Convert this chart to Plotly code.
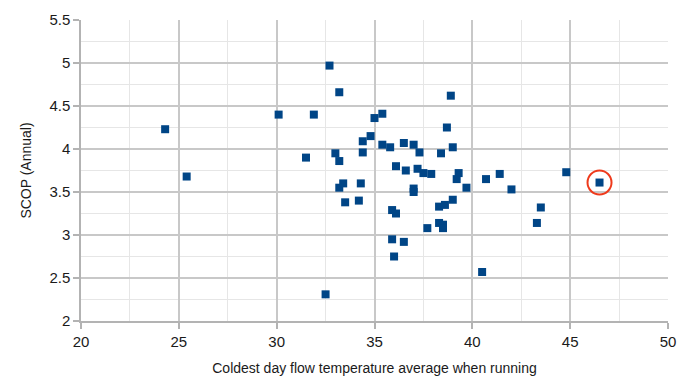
import plotly.graph_objects as go

flow_temp = [24.3, 25.4, 30.1, 31.9, 31.5, 32.7, 33.2, 33.0, 33.2, 33.2, 33.4, 33.5, 32.5,
             34.2, 34.3, 34.4, 34.4, 34.8, 35.0, 35.4, 35.4, 35.8, 36.5, 37.0, 37.3, 38.7,
             38.9, 39.0, 38.4, 36.1, 36.6, 37.2, 37.5, 37.9, 39.3, 39.2, 40.7, 41.4, 42.0,
             44.8, 46.5, 39.7, 37.0, 37.0, 35.9, 36.1, 38.3, 38.6, 39.0, 43.5, 43.3, 37.7,
             38.3, 38.5, 38.5, 35.9, 36.5, 36.0, 40.5]
scop = [4.23, 3.68, 4.40, 4.40, 3.90, 4.97, 4.66, 3.95, 3.86, 3.55, 3.60, 3.38, 2.31,
        3.40, 3.60, 4.09, 3.96, 4.15, 4.36, 4.41, 4.05, 4.02, 4.07, 4.05, 3.96, 4.25,
        4.62, 4.02, 3.95, 3.80, 3.75, 3.77, 3.72, 3.71, 3.72, 3.65, 3.65, 3.71, 3.53,
        3.73, 3.61, 3.55, 3.54, 3.50, 3.29, 3.25, 3.33, 3.35, 3.41, 3.32, 3.14, 3.08,
        3.14, 3.12, 3.08, 2.95, 2.92, 2.75, 2.57]
highlight_index = 40

x_ticks = [20, 25, 30, 35, 40, 45, 50]
y_ticks = [2, 2.5, 3, 3.5, 4, 4.5, 5, 5.5]

fig = go.Figure()
fig.add_trace(go.Scatter(
    x=flow_temp, y=scop, mode="markers",
    marker=dict(symbol="square", size=8, color="#004586", line=dict(width=0)),
    showlegend=False, hoverinfo="x+y"))
fig.add_trace(go.Scatter(
    x=[flow_temp[highlight_index]], y=[scop[highlight_index]], mode="markers",
    marker=dict(symbol="circle-open", size=24, color="#ee3a1c", line=dict(width=2, color="#ee3a1c")),
    showlegend=False, hoverinfo="skip"))

font = "Liberation Sans, Arial, sans-serif"
fig.update_layout(
    width=682, height=380,
    margin=dict(l=73, r=22, t=12, b=67, autoexpand=False),
    paper_bgcolor="white", plot_bgcolor="white",
    font=dict(family=font, color="#1a1a1a", size=15),
    xaxis=dict(
        range=[20, 50], tickvals=x_ticks, ticktext=[str(v) for v in x_ticks],
        automargin=False,
        showgrid=True, gridcolor="#c8c8c8", gridwidth=1.5,
        minor=dict(dtick=2.5, showgrid=True, gridcolor="#e6e6e6", gridwidth=1),
        zeroline=False, showline=True, linecolor="#b3b3b3", linewidth=1.5, mirror=False,
        ticks="outside", ticklen=6, tickcolor="#b3b3b3", tickwidth=1.5,
        tickfont=dict(size=15, color="#1a1a1a"),
        title=dict(text="Coldest day flow temperature average when running",
                   font=dict(size=14, color="#1a1a1a"), standoff=14),
    ),
    yaxis=dict(
        range=[2, 5.5], tickvals=y_ticks, ticktext=[f"{v:g}" for v in y_ticks],
        automargin=False,
        showgrid=True, gridcolor="#c8c8c8", gridwidth=1.5,
        minor=dict(dtick=0.25, showgrid=True, gridcolor="#e6e6e6", gridwidth=1),
        zeroline=False, showline=True, linecolor="#b3b3b3", linewidth=1.5,
        ticks="outside", ticklen=6, tickcolor="#b3b3b3", tickwidth=1.5,
        tickfont=dict(size=15, color="#1a1a1a"),
        title=dict(text="SCOP (Annual)", font=dict(size=14, color="#1a1a1a"), standoff=14),
    ),
)

fig.write_html("out.html")
